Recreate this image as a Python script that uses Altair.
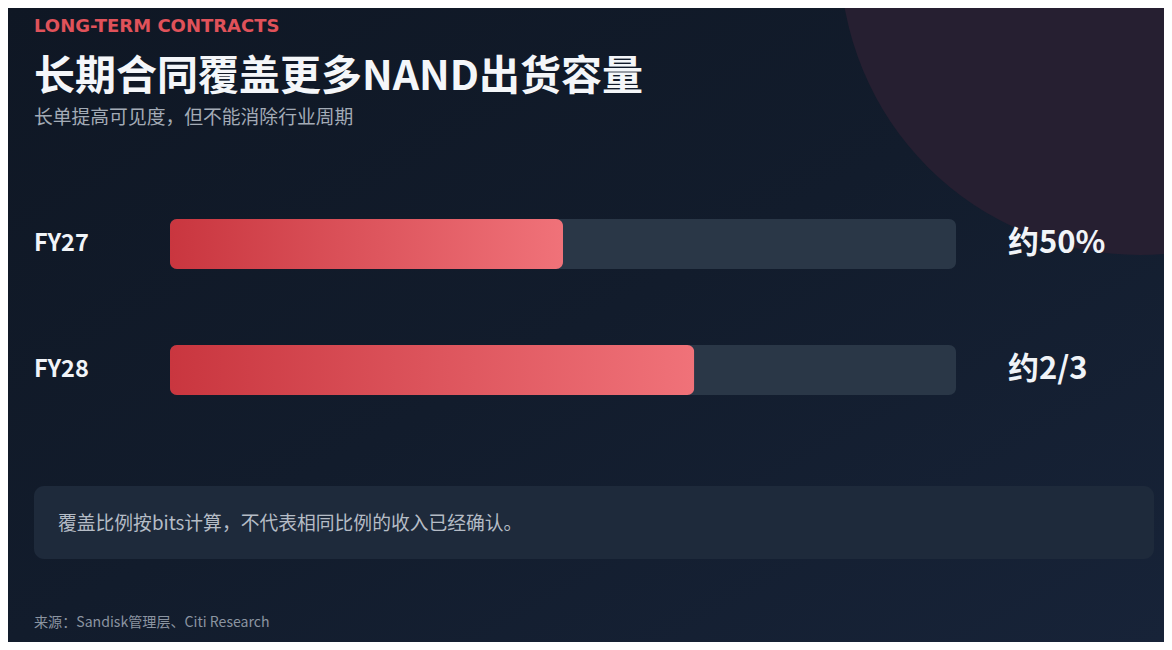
import altair as alt
import pandas as pd

# ---- data ----
categories = ["FY27", "FY28"]
shares = [0.50, 0.667]
value_labels = ["约50%", "约2/3"]

kicker = "LONG-TERM CONTRACTS"
title = "长期合同覆盖更多NAND出货容量"
subtitle = "长单提高可见度，但不能消除行业周期"
note = "覆盖比例按bits计算，不代表相同比例的收入已经确认。"
source = "来源：Sandisk管理层、Citi Research"

df = pd.DataFrame({"category": categories, "share": shares, "label": value_labels})
one = pd.DataFrame({"d": [0]})

W, H = 1156, 634
FONT = "Noto Sans CJK SC"

bg = alt.Chart(one).mark_rect(
    color=alt.LinearGradient(
        gradient="linear", x1=0, y1=0, x2=1, y2=1,
        stops=[alt.GradientStop(color="#0f1724", offset=0),
               alt.GradientStop(color="#121c2c", offset=0.5),
               alt.GradientStop(color="#172338", offset=1)],
    )
).encode(x=alt.value(0), x2=alt.value(W), y=alt.value(0), y2=alt.value(H))

# decorative disc, radius ~300px (symbol size = diameter^2)
circle = alt.Chart(one).mark_circle(
    size=600 ** 2, color="#261f31", opacity=1, clip=True
).encode(x=alt.value(1132), y=alt.value(-53))

yenc = alt.Y("category:N", sort=categories,
             scale=alt.Scale(type="point", domain=categories, range=[236, 362], padding=0),
             axis=None)
xscale = alt.Scale(domain=[0, 1], range=[162, 948])

track = alt.Chart(df).transform_calculate(start="0", end="1").mark_bar(
    height=50, cornerRadius=7, color="#2a3747"
).encode(
    y=yenc,
    x=alt.X("start:Q", scale=xscale, axis=None),
    x2="end:Q",
)

fill = alt.Chart(df).mark_bar(
    height=50, cornerRadius=7,
    color=alt.LinearGradient(
        gradient="linear", x1=0, y1=0, x2=1, y2=0,
        stops=[alt.GradientStop(color="#c9363f", offset=0),
               alt.GradientStop(color="#f07279", offset=1)],
    ),
).encode(
    y=yenc,
    x=alt.X("share:Q", scale=xscale, axis=None),
)

cat_labels = alt.Chart(df).mark_text(
    align="left", baseline="middle", fontSize=23.5, fontWeight="bold",
    color="#f1f4f8", font=FONT
).encode(y=yenc, x=alt.value(26), text="category:N")

val_labels = alt.Chart(df).mark_text(
    align="left", baseline="middle", fontSize=31, fontWeight="bold",
    color="#f1f4f8", font=FONT
).encode(y=yenc, x=alt.value(1000), text="label:N")

def txt(s, x, y, size, color, weight="normal", baseline="alphabetic", font=FONT):
    return alt.Chart(one).mark_text(
        align="left", baseline=baseline, fontSize=size, fontWeight=weight,
        color=color, font=font, text=s
    ).encode(x=alt.value(x), y=alt.value(y))

note_box = alt.Chart(one).mark_rect(color="#1e2a3b", cornerRadius=10).encode(
    x=alt.value(26), x2=alt.value(1146), y=alt.value(478), y2=alt.value(551)
)

layers = [
    bg, circle, track, fill, cat_labels, val_labels, note_box,
    txt(kicker, 26, 23.8, 18, "#e0525a", "bold", font="DejaVu Sans"),
    txt(title, 26, 82, 41, "#f4f6f9", "bold"),
    txt(subtitle, 26, 109.5, 18.8, "#a3abb6", baseline="middle"),
    txt(note, 50, 515.5, 18.8, "#b5bcc6", baseline="middle"),
    txt(source, 26, 614.5, 14.1, "#8b94a1", baseline="middle"),
]

chart = alt.layer(*layers).properties(
    width=W, height=H, padding=0, autosize="none", background="#111a28"
).configure_view(strokeWidth=0)

chart.save("out.html", embed_options={"renderer": "svg", "actions": False})
